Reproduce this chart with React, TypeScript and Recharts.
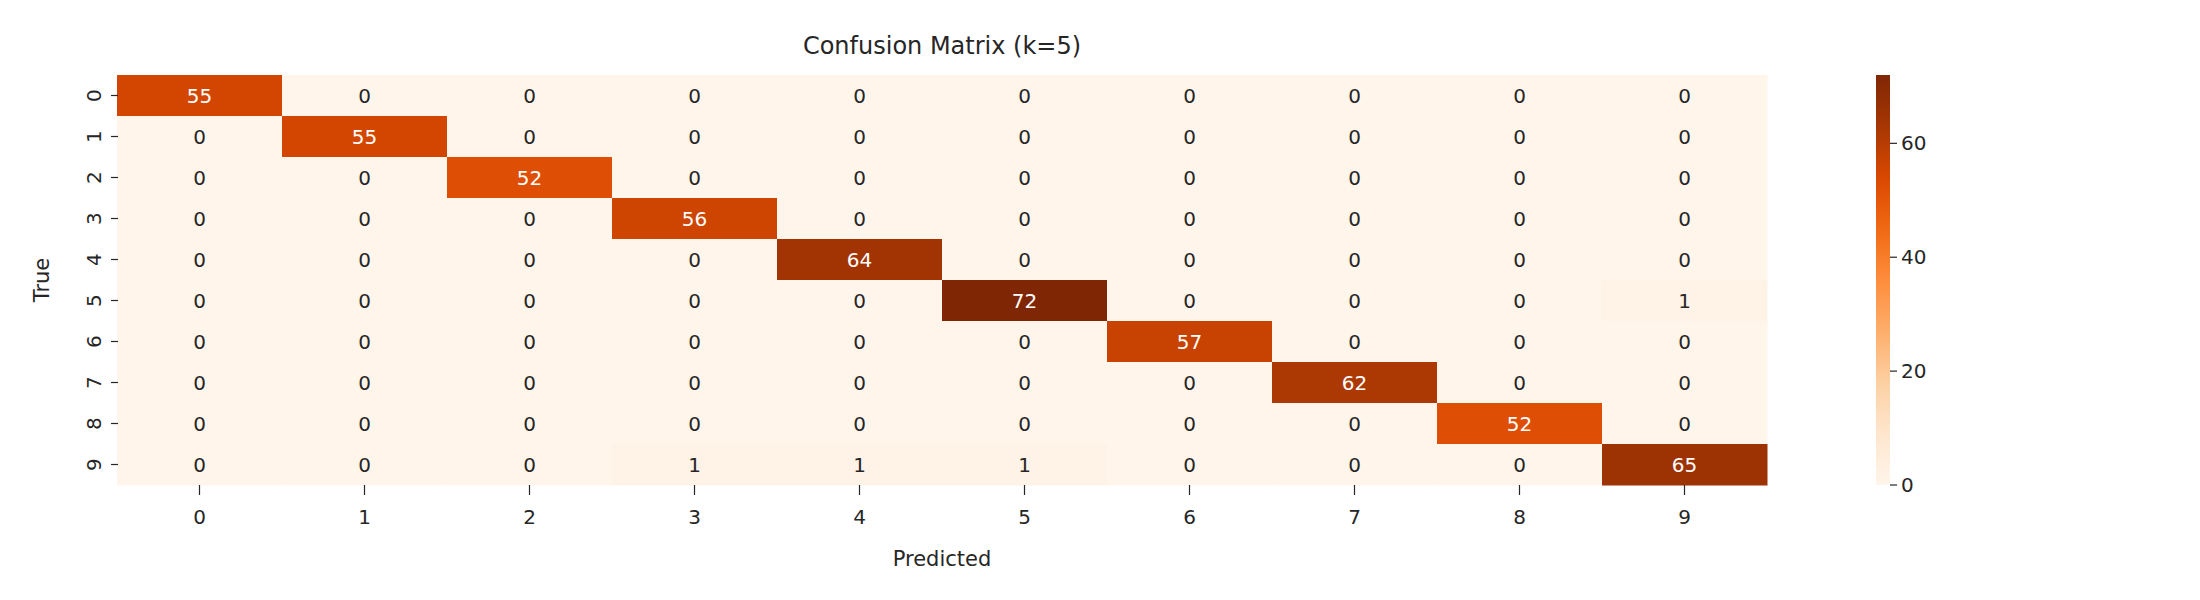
import React from 'react';
import { ScatterChart, Scatter, XAxis, YAxis, BarChart, Bar, Customized } from 'recharts';

const labels = [0, 1, 2, 3, 4, 5, 6, 7, 8, 9];
const matrix: number[][] = [
  [55, 0, 0, 0, 0, 0, 0, 0, 0, 0],
  [0, 55, 0, 0, 0, 0, 0, 0, 0, 0],
  [0, 0, 52, 0, 0, 0, 0, 0, 0, 0],
  [0, 0, 0, 56, 0, 0, 0, 0, 0, 0],
  [0, 0, 0, 0, 64, 0, 0, 0, 0, 0],
  [0, 0, 0, 0, 0, 72, 0, 0, 0, 1],
  [0, 0, 0, 0, 0, 0, 57, 0, 0, 0],
  [0, 0, 0, 0, 0, 0, 0, 62, 0, 0],
  [0, 0, 0, 0, 0, 0, 0, 0, 52, 0],
  [0, 0, 0, 1, 1, 1, 0, 0, 0, 65],
];
const cbTicks = [0, 20, 40, 60];
const VMAX = 72;

const stops = ['#fff5eb', '#fee6ce', '#fdd0a2', '#fdae6b', '#fd8d3c', '#f16913', '#d94801', '#a63603', '#7f2704'];
function hex(h: string) { return [1, 3, 5].map(i => parseInt(h.slice(i, i + 2), 16)); }
function cmap(t: number) {
  t = Math.max(0, Math.min(1, t));
  const p = t * (stops.length - 1);
  const i = Math.min(stops.length - 2, Math.floor(p));
  const f = p - i;
  const a = hex(stops[i]), b = hex(stops[i + 1]);
  const c = a.map((v, k) => Math.round(v + (b[k] - v) * f));
  return `rgb(${c[0]},${c[1]},${c[2]})`;
}

const cells = matrix.flatMap((row, r) => row.map((v, c) => ({ x: c, y: r, v })));

const W = 2200, H = 600;
const L = 117, R = 1767, T = 75, B = 485;
const CW = (R - L) / 10, CH = (B - T) / 10;
const FONT = 'DejaVu Sans';

const CellShape = (p: any) => {
  const { cx, cy, payload } = p;
  const v = payload.v;
  return (
    <g>
      <rect x={cx - CW / 2} y={cy - CH / 2} width={CW + 0.5} height={CH + 0.5} fill={cmap(v / VMAX)} />
      <text x={cx} y={cy} textAnchor="middle" dominantBaseline="central" fontSize={20} fontFamily={FONT}
        fill={v > VMAX / 2 ? '#ffffff' : '#262626'}>{v}</text>
    </g>
  );
};

const YTick = (p: any) => {
  const { x, y, payload } = p;
  return (
    <g>
      <line x1={x + 2} x2={x + 9} y1={y} y2={y} stroke="#262626" strokeWidth={1.2} />
      <text x={x - 8} y={y} transform={`rotate(-90 ${x - 8} ${y})`} textAnchor="middle" fontSize={20}
        fontFamily={FONT} fill="#262626">{payload.value}</text>
    </g>
  );
};
const XTick = (p: any) => {
  const { x, y, payload } = p;
  return (
    <g>
      <line x1={x} x2={x} y1={B} y2={B + 10} stroke="#262626" strokeWidth={1.2} />
      <text x={x} y={B + 39} textAnchor="middle" fontSize={20} fontFamily={FONT} fill="#262626">{payload.value}</text>
    </g>
  );
};

const CbTick = (p: any) => {
  const { x, y, payload } = p;
  return (
    <g>
      <line x1={x - 8} x2={x - 1} y1={y} y2={y} stroke="#262626" strokeWidth={1.2} />
      <text x={x + 3} y={y} dominantBaseline="central" fontSize={20} fontFamily={FONT} fill="#262626">{payload.value}</text>
    </g>
  );
};

const gradStops = Array.from({ length: 21 }, (_, i) => i / 20);

export default function App() {
  return (
    <div style={{ position: 'absolute', left: 0, top: 0, width: W, height: H, background: '#fff' }}>
      <ScatterChart width={W} height={H} margin={{ top: T, right: W - R, bottom: H - B - 40, left: L - 40 }}>
        <XAxis type="number" dataKey="x" domain={[-0.5, 9.5]} ticks={labels} height={40} axisLine={false} tickLine={false}
          tick={<XTick />} interval={0} />
        <YAxis type="number" dataKey="y" domain={[-0.5, 9.5]} ticks={labels} reversed width={40} axisLine={false}
          tickLine={false} tick={<YTick />} interval={0} />
        <Scatter data={cells} shape={<CellShape />} isAnimationActive={false} />
        <Customized component={() => (
          <g fontFamily={FONT} fill="#262626">
            <text x={(L + R) / 2} y={46} textAnchor="middle" dominantBaseline="central" fontSize={24}>Confusion Matrix (k=5)</text>
            <text x={(L + R) / 2} y={559} textAnchor="middle" dominantBaseline="central" fontSize={21}>Predicted</text>
            <text x={42} y={(T + B) / 2} transform={`rotate(-90 42 ${(T + B) / 2})`} textAnchor="middle"
              dominantBaseline="central" fontSize={21}>True</text>
          </g>
        )} />
      </ScatterChart>
      <div style={{ position: 'absolute', left: 1876, top: 0 }}>
        <BarChart width={84} height={H} data={[{ v: VMAX }]} margin={{ top: T, right: 0, bottom: H - B, left: 0 }}
          barCategoryGap={0}>
          <defs>
            <linearGradient id="cb" x1="0" y1="1" x2="0" y2="0">
              {gradStops.map(s => <stop key={s} offset={s} stopColor={cmap(s)} />)}
            </linearGradient>
          </defs>
          <XAxis dataKey="v" hide />
          <YAxis orientation="right" domain={[0, VMAX]} ticks={cbTicks} width={70} axisLine={false} tickLine={false}
            tick={<CbTick />} />
          <Bar dataKey="v" fill="url(#cb)" isAnimationActive={false} />
        </BarChart>
      </div>
    </div>
  );
}
